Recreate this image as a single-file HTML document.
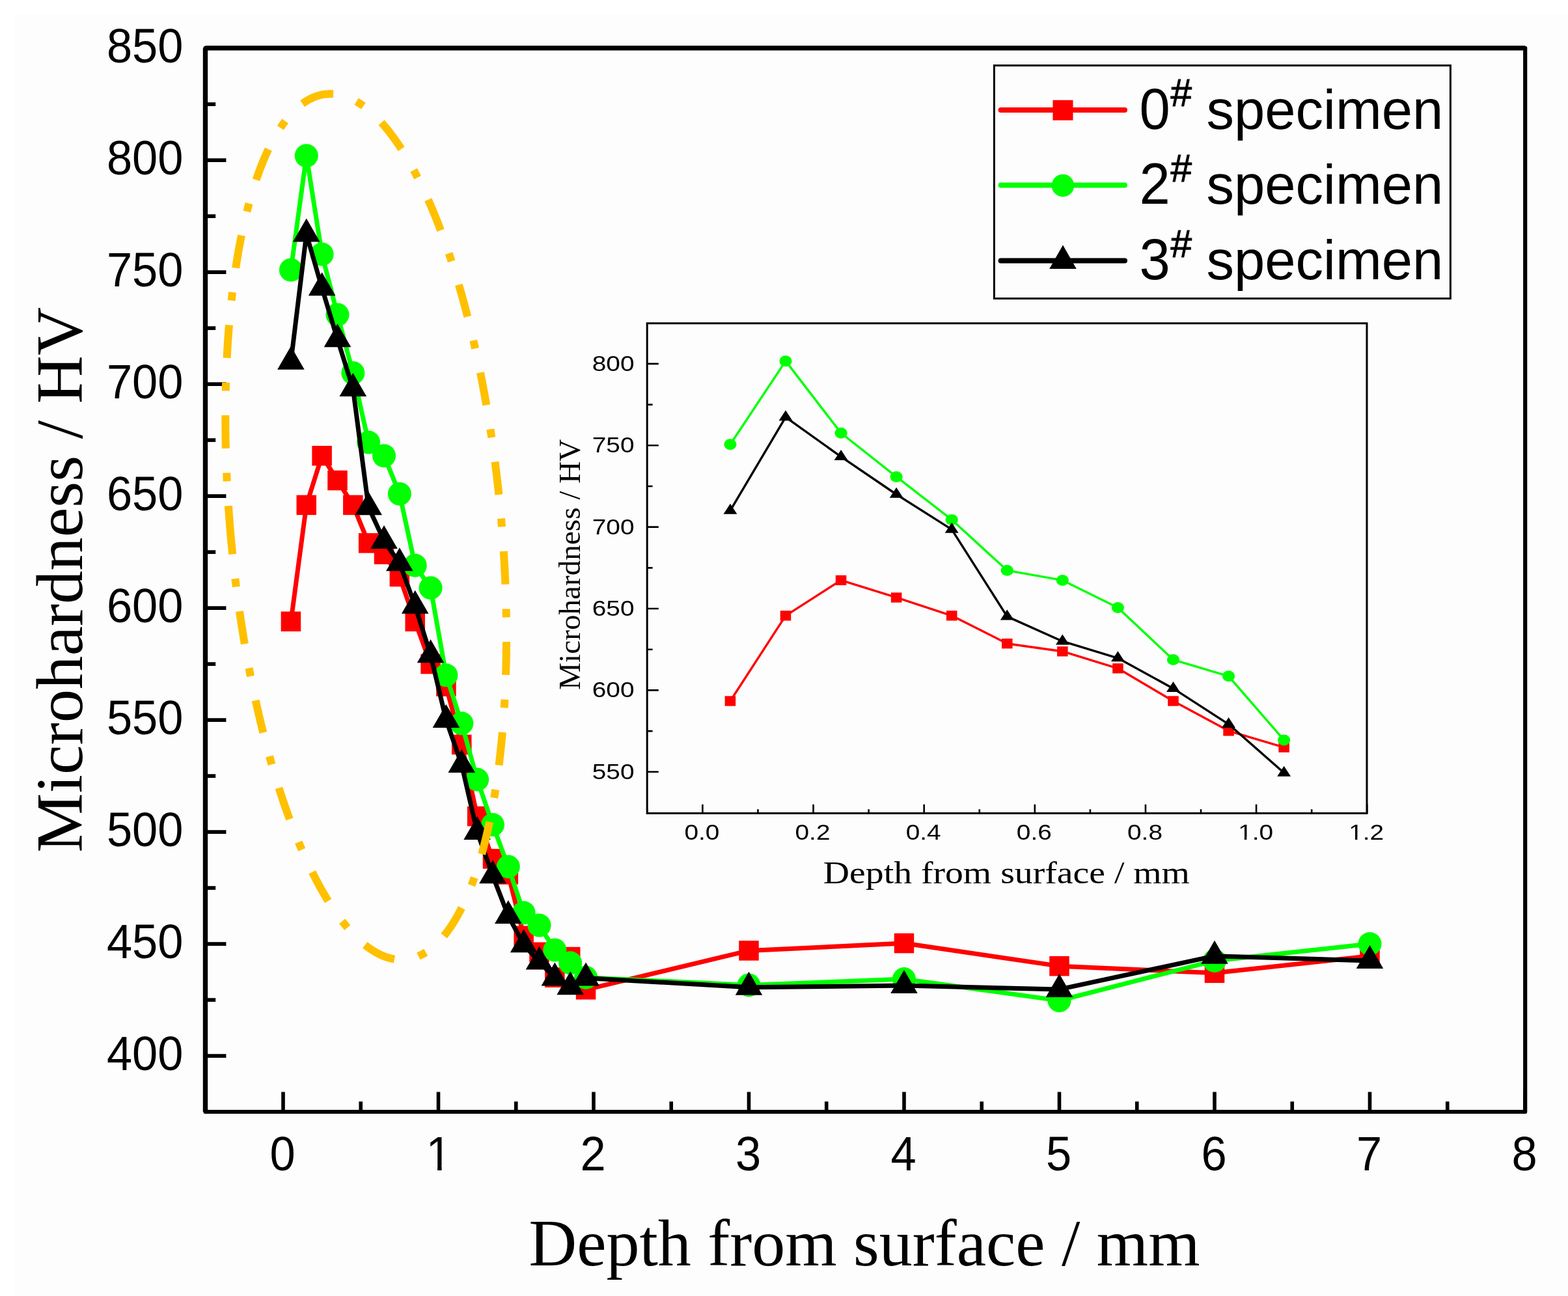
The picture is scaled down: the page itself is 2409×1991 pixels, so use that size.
<!DOCTYPE html>
<html><head><meta charset="utf-8"><title>Microhardness vs depth</title>
<style>html,body{margin:0;padding:0;background:#fdfdfd;overflow:hidden}svg{display:block}</style></head>
<body><svg width="2409" height="1991" viewBox="0 0 2409 1991">
<defs><clipPath id="c1_0" clipPathUnits="userSpaceOnUse"><path clip-rule="evenodd" d="M-219.6043701171875 -400H219.6043701171875V200H-219.6043701171875Z M-15.13 1.20H-1.98V-6.17H-15.13Z M4.46 1.20H17.06V-6.17H4.46Z"/></clipPath><clipPath id="c1_1" clipPathUnits="userSpaceOnUse"><path clip-rule="evenodd" d="M-223.354296875 -400H223.354296875V200H-223.354296875Z M-21.22 1.20H-14.95V-3.41H-21.22Z M-11.89 1.20H-5.88V-3.41H-11.89Z"/></clipPath><clipPath id="c1_2" clipPathUnits="userSpaceOnUse"><path clip-rule="evenodd" d="M-223.354296875 -400H223.354296875V200H-223.354296875Z M-21.22 1.20H-14.95V-3.41H-21.22Z M-11.89 1.20H-5.88V-3.41H-11.89Z"/></clipPath></defs>
<rect x="0" y="0" width="2409" height="1991" fill="#ffffff"/>
<rect x="22" y="22" width="2387" height="1969" fill="#fdfdfd"/>
<path d="M315.5 1708.0V73.8H2343.2V1708.0Z" stroke="#000" stroke-width="6.2" fill="none" stroke-linejoin="round"/>
<path d="M315.5 1708.0V73.8" stroke="#000" stroke-width="7.4" fill="none"/>
<path d="M315.5 73.8H2343.2" stroke="#000" stroke-width="7.2" fill="none"/>
<path d="M315.5 1622.10H347.4 M315.5 1450.10H347.4 M315.5 1278.10H347.4 M315.5 1106.10H347.4 M315.5 934.10H347.4 M315.5 762.10H347.4 M315.5 590.10H347.4 M315.5 418.10H347.4 M315.5 246.10H347.4 M315.5 74.10H347.4 M315.5 1536.10H331.2 M315.5 1364.10H331.2 M315.5 1192.10H331.2 M315.5 1020.10H331.2 M315.5 848.10H331.2 M315.5 676.10H331.2 M315.5 504.10H331.2 M315.5 332.10H331.2 M315.5 160.10H331.2 M435.00 1708.0V1677.4 M673.50 1708.0V1677.4 M912.00 1708.0V1677.4 M1150.50 1708.0V1677.4 M1389.00 1708.0V1677.4 M1627.50 1708.0V1677.4 M1866.00 1708.0V1677.4 M2104.50 1708.0V1677.4 M2343.00 1708.0V1677.4 M554.25 1708.0V1692.3 M792.75 1708.0V1692.3 M1031.25 1708.0V1692.3 M1269.75 1708.0V1692.3 M1508.25 1708.0V1692.3 M1746.75 1708.0V1692.3 M1985.25 1708.0V1692.3 M2223.75 1708.0V1692.3" stroke="#000" stroke-width="5.6" fill="none"/>
<text transform="translate(281.5 1644.0) scale(1 1.045)" text-anchor="end" font-family="'Liberation Sans', Arial, sans-serif" font-size="70.5">400</text>
<text transform="translate(281.5 1472.0) scale(1 1.045)" text-anchor="end" font-family="'Liberation Sans', Arial, sans-serif" font-size="70.5">450</text>
<text transform="translate(281.5 1300.0) scale(1 1.045)" text-anchor="end" font-family="'Liberation Sans', Arial, sans-serif" font-size="70.5">500</text>
<text transform="translate(281.5 1128.0) scale(1 1.045)" text-anchor="end" font-family="'Liberation Sans', Arial, sans-serif" font-size="70.5">550</text>
<text transform="translate(281.5 956.0) scale(1 1.045)" text-anchor="end" font-family="'Liberation Sans', Arial, sans-serif" font-size="70.5">600</text>
<text transform="translate(281.5 784.0) scale(1 1.045)" text-anchor="end" font-family="'Liberation Sans', Arial, sans-serif" font-size="70.5">650</text>
<text transform="translate(281.5 612.0) scale(1 1.045)" text-anchor="end" font-family="'Liberation Sans', Arial, sans-serif" font-size="70.5">700</text>
<text transform="translate(281.5 440.0) scale(1 1.045)" text-anchor="end" font-family="'Liberation Sans', Arial, sans-serif" font-size="70.5">750</text>
<text transform="translate(281.5 268.0) scale(1 1.045)" text-anchor="end" font-family="'Liberation Sans', Arial, sans-serif" font-size="70.5">800</text>
<text transform="translate(281.5 96.0) scale(1 1.045)" text-anchor="end" font-family="'Liberation Sans', Arial, sans-serif" font-size="70.5">850</text>
<text transform="translate(434.0 1797.6) scale(1 1.04)" text-anchor="middle" font-family="'Liberation Sans', Arial, sans-serif" font-size="70.5">0</text>
<text transform="translate(674.1 1797.6) scale(1 1.04)" text-anchor="middle" font-family="'Liberation Sans', Arial, sans-serif" font-size="70.5" clip-path="url(#c1_0)">1</text>
<text transform="translate(911.0 1797.6) scale(1 1.04)" text-anchor="middle" font-family="'Liberation Sans', Arial, sans-serif" font-size="70.5">2</text>
<text transform="translate(1149.5 1797.6) scale(1 1.04)" text-anchor="middle" font-family="'Liberation Sans', Arial, sans-serif" font-size="70.5">3</text>
<text transform="translate(1388.0 1797.6) scale(1 1.04)" text-anchor="middle" font-family="'Liberation Sans', Arial, sans-serif" font-size="70.5">4</text>
<text transform="translate(1626.5 1797.6) scale(1 1.04)" text-anchor="middle" font-family="'Liberation Sans', Arial, sans-serif" font-size="70.5">5</text>
<text transform="translate(1865.0 1797.6) scale(1 1.04)" text-anchor="middle" font-family="'Liberation Sans', Arial, sans-serif" font-size="70.5">6</text>
<text transform="translate(2103.5 1797.6) scale(1 1.04)" text-anchor="middle" font-family="'Liberation Sans', Arial, sans-serif" font-size="70.5">7</text>
<text transform="translate(2342.0 1797.6) scale(1 1.04)" text-anchor="middle" font-family="'Liberation Sans', Arial, sans-serif" font-size="70.5">8</text>
<text x="1328" y="1943.5" text-anchor="middle" font-family="'Liberation Serif', 'Times New Roman', serif" font-size="102">Depth from surface / mm</text>
<text transform="translate(126 890.8) rotate(-90)" text-anchor="middle" font-family="'Liberation Serif', 'Times New Roman', serif" font-size="102.6">Microhardness / HV</text>
<path d="M446.93 954.74 L470.77 775.86 L494.62 700.18 L518.48 738.02 L542.33 775.86 L566.17 834.34 L590.02 851.54 L613.88 885.94 L637.73 954.74 L661.58 1020.10 L685.42 1054.50 L709.27 1143.94 L733.12 1254.02 L756.98 1319.38 L780.83 1343.46 L804.67 1437.72 L828.52 1462.83 L852.38 1501.70 L876.23 1470.05 L900.08 1520.28 L1150.50 1460.42 L1389.00 1449.07 L1627.50 1484.16 L1866.00 1494.82 L2104.50 1468.68" stroke="#ff0000" stroke-width="7" fill="none" stroke-linejoin="round" stroke-linecap="round"/>
<rect x="431.68" y="939.49" width="30.50" height="30.50" fill="#ff0000"/>
<rect x="455.52" y="760.61" width="30.50" height="30.50" fill="#ff0000"/>
<rect x="479.38" y="684.93" width="30.50" height="30.50" fill="#ff0000"/>
<rect x="503.23" y="722.77" width="30.50" height="30.50" fill="#ff0000"/>
<rect x="527.08" y="760.61" width="30.50" height="30.50" fill="#ff0000"/>
<rect x="550.92" y="819.09" width="30.50" height="30.50" fill="#ff0000"/>
<rect x="574.77" y="836.29" width="30.50" height="30.50" fill="#ff0000"/>
<rect x="598.62" y="870.69" width="30.50" height="30.50" fill="#ff0000"/>
<rect x="622.48" y="939.49" width="30.50" height="30.50" fill="#ff0000"/>
<rect x="646.33" y="1004.85" width="30.50" height="30.50" fill="#ff0000"/>
<rect x="670.17" y="1039.25" width="30.50" height="30.50" fill="#ff0000"/>
<rect x="694.02" y="1128.69" width="30.50" height="30.50" fill="#ff0000"/>
<rect x="717.88" y="1238.77" width="30.50" height="30.50" fill="#ff0000"/>
<rect x="741.73" y="1304.13" width="30.50" height="30.50" fill="#ff0000"/>
<rect x="765.58" y="1328.21" width="30.50" height="30.50" fill="#ff0000"/>
<rect x="789.42" y="1422.47" width="30.50" height="30.50" fill="#ff0000"/>
<rect x="813.27" y="1447.58" width="30.50" height="30.50" fill="#ff0000"/>
<rect x="837.12" y="1486.45" width="30.50" height="30.50" fill="#ff0000"/>
<rect x="860.98" y="1454.80" width="30.50" height="30.50" fill="#ff0000"/>
<rect x="884.83" y="1505.03" width="30.50" height="30.50" fill="#ff0000"/>
<rect x="1135.25" y="1445.17" width="30.50" height="30.50" fill="#ff0000"/>
<rect x="1373.75" y="1433.82" width="30.50" height="30.50" fill="#ff0000"/>
<rect x="1612.25" y="1468.91" width="30.50" height="30.50" fill="#ff0000"/>
<rect x="1850.75" y="1479.57" width="30.50" height="30.50" fill="#ff0000"/>
<rect x="2089.25" y="1453.43" width="30.50" height="30.50" fill="#ff0000"/>
<path d="M446.93 414.66 L470.77 239.22 L494.62 390.58 L518.48 483.46 L542.33 572.90 L566.17 679.54 L590.02 700.18 L613.88 758.66 L637.73 868.74 L661.58 903.14 L685.42 1037.30 L709.27 1111.26 L733.12 1197.60 L756.98 1267.09 L780.83 1331.42 L804.67 1402.28 L828.52 1421.55 L852.38 1459.39 L876.23 1479.34 L900.08 1501.70 L1150.50 1513.40 L1389.00 1504.11 L1627.50 1537.13 L1866.00 1475.90 L2104.50 1450.10" stroke="#00ff00" stroke-width="7" fill="none" stroke-linejoin="round" stroke-linecap="round"/>
<ellipse cx="446.93" cy="414.66" rx="18.00" ry="18.00" fill="#00ff00"/>
<ellipse cx="470.77" cy="239.22" rx="18.00" ry="18.00" fill="#00ff00"/>
<ellipse cx="494.62" cy="390.58" rx="18.00" ry="18.00" fill="#00ff00"/>
<ellipse cx="518.48" cy="483.46" rx="18.00" ry="18.00" fill="#00ff00"/>
<ellipse cx="542.33" cy="572.90" rx="18.00" ry="18.00" fill="#00ff00"/>
<ellipse cx="566.17" cy="679.54" rx="18.00" ry="18.00" fill="#00ff00"/>
<ellipse cx="590.02" cy="700.18" rx="18.00" ry="18.00" fill="#00ff00"/>
<ellipse cx="613.88" cy="758.66" rx="18.00" ry="18.00" fill="#00ff00"/>
<ellipse cx="637.73" cy="868.74" rx="18.00" ry="18.00" fill="#00ff00"/>
<ellipse cx="661.58" cy="903.14" rx="18.00" ry="18.00" fill="#00ff00"/>
<ellipse cx="685.42" cy="1037.30" rx="18.00" ry="18.00" fill="#00ff00"/>
<ellipse cx="709.27" cy="1111.26" rx="18.00" ry="18.00" fill="#00ff00"/>
<ellipse cx="733.12" cy="1197.60" rx="18.00" ry="18.00" fill="#00ff00"/>
<ellipse cx="756.98" cy="1267.09" rx="18.00" ry="18.00" fill="#00ff00"/>
<ellipse cx="780.83" cy="1331.42" rx="18.00" ry="18.00" fill="#00ff00"/>
<ellipse cx="804.67" cy="1402.28" rx="18.00" ry="18.00" fill="#00ff00"/>
<ellipse cx="828.52" cy="1421.55" rx="18.00" ry="18.00" fill="#00ff00"/>
<ellipse cx="852.38" cy="1459.39" rx="18.00" ry="18.00" fill="#00ff00"/>
<ellipse cx="876.23" cy="1479.34" rx="18.00" ry="18.00" fill="#00ff00"/>
<ellipse cx="900.08" cy="1501.70" rx="18.00" ry="18.00" fill="#00ff00"/>
<ellipse cx="1150.50" cy="1513.40" rx="18.00" ry="18.00" fill="#00ff00"/>
<ellipse cx="1389.00" cy="1504.11" rx="18.00" ry="18.00" fill="#00ff00"/>
<ellipse cx="1627.50" cy="1537.13" rx="18.00" ry="18.00" fill="#00ff00"/>
<ellipse cx="1866.00" cy="1475.90" rx="18.00" ry="18.00" fill="#00ff00"/>
<ellipse cx="2104.50" cy="1450.10" rx="18.00" ry="18.00" fill="#00ff00"/>
<path d="M446.93 555.70 L470.77 359.62 L494.62 442.18 L518.48 521.30 L542.33 596.98 L566.17 779.30 L590.02 830.90 L613.88 865.30 L637.73 930.66 L661.58 1006.34 L685.42 1106.10 L709.27 1174.90 L733.12 1278.10 L756.98 1345.18 L780.83 1407.10 L804.67 1451.13 L828.52 1477.62 L852.38 1502.39 L876.23 1516.15 L900.08 1502.39 L1150.50 1516.84 L1389.00 1514.08 L1627.50 1519.93 L1866.00 1468.68 L2104.50 1475.90" stroke="#000000" stroke-width="7" fill="none" stroke-linejoin="round" stroke-linecap="round"/>
<path d="M446.93 531.70L467.71 567.70L426.14 567.70Z" fill="#000000"/>
<path d="M470.77 335.62L491.56 371.62L449.99 371.62Z" fill="#000000"/>
<path d="M494.62 418.18L515.41 454.18L473.84 454.18Z" fill="#000000"/>
<path d="M518.48 497.30L539.26 533.30L497.69 533.30Z" fill="#000000"/>
<path d="M542.33 572.98L563.11 608.98L521.54 608.98Z" fill="#000000"/>
<path d="M566.17 755.30L586.96 791.30L545.39 791.30Z" fill="#000000"/>
<path d="M590.02 806.90L610.81 842.90L569.24 842.90Z" fill="#000000"/>
<path d="M613.88 841.30L634.66 877.30L593.09 877.30Z" fill="#000000"/>
<path d="M637.73 906.66L658.51 942.66L616.94 942.66Z" fill="#000000"/>
<path d="M661.58 982.34L682.36 1018.34L640.79 1018.34Z" fill="#000000"/>
<path d="M685.42 1082.10L706.21 1118.10L664.64 1118.10Z" fill="#000000"/>
<path d="M709.27 1150.90L730.06 1186.90L688.49 1186.90Z" fill="#000000"/>
<path d="M733.12 1254.10L753.91 1290.10L712.34 1290.10Z" fill="#000000"/>
<path d="M756.98 1321.18L777.76 1357.18L736.19 1357.18Z" fill="#000000"/>
<path d="M780.83 1383.10L801.61 1419.10L760.04 1419.10Z" fill="#000000"/>
<path d="M804.67 1427.13L825.46 1463.13L783.89 1463.13Z" fill="#000000"/>
<path d="M828.52 1453.62L849.31 1489.62L807.74 1489.62Z" fill="#000000"/>
<path d="M852.38 1478.39L873.16 1514.39L831.59 1514.39Z" fill="#000000"/>
<path d="M876.23 1492.15L897.01 1528.15L855.44 1528.15Z" fill="#000000"/>
<path d="M900.08 1478.39L920.86 1514.39L879.29 1514.39Z" fill="#000000"/>
<path d="M1150.50 1492.84L1171.28 1528.84L1129.72 1528.84Z" fill="#000000"/>
<path d="M1389.00 1490.08L1409.78 1526.08L1368.22 1526.08Z" fill="#000000"/>
<path d="M1627.50 1495.93L1648.28 1531.93L1606.72 1531.93Z" fill="#000000"/>
<path d="M1866.00 1444.68L1886.78 1480.68L1845.22 1480.68Z" fill="#000000"/>
<path d="M2104.50 1451.90L2125.28 1487.90L2083.72 1487.90Z" fill="#000000"/>
<path d="M769.95 796.55 L770.50 802.92 L771.03 809.30 M773.78 846.95 L774.07 851.56 L774.36 856.17 L774.63 860.78 L774.89 865.39 L775.14 870.00 L775.38 874.61 L775.61 879.23 L775.83 883.84 L776.04 888.45 L776.24 893.07 L776.42 897.68 M777.58 935.50 L777.71 941.90 L777.81 948.30 M778.01 986.05 L777.98 990.67 L777.94 995.29 L777.89 999.90 L777.83 1004.52 L777.76 1009.14 L777.68 1013.76 L777.58 1018.37 L777.47 1022.99 L777.35 1027.61 L777.22 1032.22 L777.08 1036.84 M775.44 1074.64 L775.08 1081.03 L774.69 1087.42 M771.87 1125.07 L771.46 1129.67 L771.04 1134.26 L770.60 1138.86 L770.14 1143.46 L769.67 1148.05 L769.19 1152.64 L768.69 1157.24 L768.17 1161.82 L767.64 1166.41 L767.09 1171.00 L766.53 1175.58 M761.24 1213.05 L760.22 1219.37 L759.16 1225.68 M752.13 1262.76 L751.16 1267.28 L750.17 1271.79 L749.16 1276.30 L748.12 1280.80 L747.06 1285.29 L745.97 1289.78 L744.85 1294.26 L743.71 1298.73 L742.53 1303.20 L741.33 1307.66 L740.10 1312.11 M728.75 1348.20 L726.58 1354.22 L724.34 1360.22 M709.24 1394.80 L707.14 1398.91 L704.98 1402.99 L702.75 1407.04 L700.45 1411.05 L698.08 1415.01 L695.64 1418.93 L693.11 1422.79 L690.51 1426.61 L687.81 1430.36 L685.02 1434.04 L682.14 1437.64 M654.26 1462.99 L648.72 1466.19 L642.94 1468.94 M605.98 1473.54 L601.45 1472.66 L596.98 1471.50 L592.58 1470.09 L588.27 1468.43 L584.05 1466.56 L579.93 1464.48 L575.90 1462.22 L571.97 1459.80 L568.13 1457.24 L564.38 1454.53 L560.73 1451.71 M533.81 1425.20 L529.72 1420.28 L525.74 1415.27 M504.28 1384.23 L501.86 1380.29 L499.48 1376.34 L497.14 1372.35 L494.84 1368.35 L492.57 1364.33 L490.34 1360.28 L488.14 1356.22 L485.98 1352.14 L483.85 1348.05 L481.75 1343.93 L479.67 1339.81 M463.75 1305.48 L461.23 1299.60 L458.75 1293.70 M444.98 1258.56 L443.39 1254.22 L441.81 1249.88 L440.26 1245.53 L438.72 1241.17 L437.21 1236.81 L435.71 1232.44 L434.23 1228.07 L432.76 1223.69 L431.32 1219.31 L429.89 1214.91 L428.47 1210.52 M417.49 1174.31 L415.73 1168.16 L414.00 1161.99 M404.34 1125.50 L403.21 1121.02 L402.11 1116.54 L401.01 1112.05 L399.93 1107.56 L398.86 1103.07 L397.80 1098.57 L396.76 1094.08 L395.73 1089.57 L394.71 1085.07 L393.70 1080.56 L392.70 1076.05 M384.99 1039.01 L383.76 1032.73 L382.55 1026.44 M375.85 989.29 L375.08 984.74 L374.32 980.18 L373.57 975.63 L372.84 971.07 L372.11 966.51 L371.39 961.95 L370.69 957.38 L369.99 952.82 L369.30 948.25 L368.63 943.68 L367.96 939.11 M362.89 901.61 L362.10 895.26 L361.33 888.91 M357.17 851.39 L356.68 846.45 L356.19 841.51 L355.72 836.57 L355.25 831.63 L354.80 826.69 L354.36 821.74 L353.93 816.80 L353.52 811.85 L353.11 806.90 L352.72 801.96 L352.34 797.01 L351.96 792.06 L351.60 787.11 L351.26 782.16 L350.92 777.21 M348.73 739.37 L348.43 732.98 L348.15 726.58 M346.89 688.85 L346.78 684.24 L346.69 679.62 L346.60 675.00 L346.53 670.38 L346.47 665.77 L346.41 661.15 L346.37 656.53 L346.34 651.91 L346.32 647.29 L346.31 642.68 L346.31 638.06 M346.76 600.42 L346.91 594.02 L347.08 587.63 M348.59 549.91 L348.83 545.29 L349.08 540.68 L349.35 536.07 L349.63 531.46 L349.93 526.85 L350.24 522.25 L350.56 517.64 L350.89 513.03 L351.24 508.43 L351.60 503.83 L351.98 499.22 M355.61 461.76 L356.33 455.40 L357.07 449.04 M362.16 411.64 L362.87 407.07 L363.59 402.51 L364.33 397.96 L365.09 393.40 L365.88 388.85 L366.68 384.30 L367.50 379.76 L368.35 375.22 L369.22 370.68 L370.10 366.15 L371.02 361.62 M379.34 324.92 L380.93 318.72 L382.58 312.53 M393.52 276.41 L395.02 272.04 L396.56 267.69 L398.14 263.35 L399.76 259.02 L401.42 254.72 L403.13 250.43 L404.89 246.16 L406.69 241.90 L408.55 237.68 L410.46 233.47 L412.42 229.29 M430.78 196.47 L434.40 191.19 L438.19 186.03 M464.66 159.29 L468.45 156.66 L472.37 154.22 L476.42 152.00 L480.59 150.01 L484.87 148.29 L489.26 146.85 L493.73 145.71 L498.27 144.88 L502.86 144.38 L507.48 144.20 L512.09 144.35 M547.58 155.88 L553.03 159.22 L558.30 162.85 M586.08 188.32 L589.14 191.78 L592.13 195.29 L595.06 198.86 L597.93 202.48 L600.75 206.14 L603.51 209.84 L606.22 213.58 L608.88 217.35 L611.50 221.16 L614.06 225.00 L616.58 228.87 M635.63 261.32 L638.63 266.98 L641.57 272.66 M657.79 306.74 L659.65 310.97 L661.49 315.21 L663.31 319.45 L665.10 323.71 L666.87 327.98 L668.61 332.25 L670.33 336.54 L672.04 340.83 L673.72 345.13 L675.38 349.44 L677.02 353.76 M689.67 389.21 L691.70 395.28 L693.70 401.36 M704.86 437.42 L706.15 441.85 L707.43 446.29 L708.69 450.73 L709.94 455.18 L711.18 459.62 L712.40 464.08 L713.61 468.54 L714.80 473.00 L715.98 477.46 L717.15 481.93 L718.30 486.40 M727.22 522.97 L728.65 529.21 L730.06 535.45 M737.91 572.37 L738.82 576.90 L739.72 581.43 L740.60 585.97 L741.48 590.50 L742.34 595.04 L743.19 599.58 L744.03 604.12 L744.86 608.66 L745.68 613.21 L746.49 617.75 L747.28 622.30 M753.38 659.44 L754.35 665.77 L755.30 672.10 M760.49 709.49 L761.08 714.07 L761.66 718.65 L762.22 723.24 L762.78 727.82 L763.33 732.40 L763.87 736.99 L764.40 741.58 L764.92 746.17 L765.42 750.76 L765.92 755.35 L766.41 759.94" stroke="#ffc000" stroke-width="12" fill="none" stroke-linecap="butt" stroke-linejoin="round"/>
<rect x="1527.4" y="100.6" width="701" height="358" fill="none" stroke="#000" stroke-width="3"/>
<line x1="1537.6" y1="169.0" x2="1728" y2="169.0" stroke="#ff0000" stroke-width="8" stroke-linecap="round"/>
<rect x="1617.5" y="153.8" width="31" height="31" fill="#ff0000"/>
<text transform="translate(1750.5 197.8) scale(1 1.04)" font-family="'Liberation Sans', Arial, sans-serif" font-size="85">0</text>
<text x="1798.5" y="163.0" font-family="'Liberation Sans', Arial, sans-serif" font-size="58.5" stroke="#000" stroke-width="1.1">#</text>
<text x="1853.5" y="197.8" font-family="'Liberation Sans', Arial, sans-serif" font-size="85">specimen</text>
<line x1="1537.6" y1="284.6" x2="1728" y2="284.6" stroke="#00ff00" stroke-width="8" stroke-linecap="round"/>
<circle cx="1633" cy="285.1" r="17.3" fill="#00ff00"/>
<text transform="translate(1750.5 313.4) scale(1 1.04)" font-family="'Liberation Sans', Arial, sans-serif" font-size="85">2</text>
<text x="1798.5" y="278.6" font-family="'Liberation Sans', Arial, sans-serif" font-size="58.5" stroke="#000" stroke-width="1.1">#</text>
<text x="1853.5" y="313.4" font-family="'Liberation Sans', Arial, sans-serif" font-size="85">specimen</text>
<line x1="1537.6" y1="400.5" x2="1728" y2="400.5" stroke="#000000" stroke-width="8" stroke-linecap="round"/>
<path d="M1633 376.5L1653.8 412.9L1612.2 412.9Z" fill="#000000"/>
<text transform="translate(1750.5 429.3) scale(1 1.04)" font-family="'Liberation Sans', Arial, sans-serif" font-size="85">3</text>
<text x="1798.5" y="394.5" font-family="'Liberation Sans', Arial, sans-serif" font-size="58.5" stroke="#000" stroke-width="1.1">#</text>
<text x="1853.5" y="429.3" font-family="'Liberation Sans', Arial, sans-serif" font-size="85">specimen</text>
<rect x="994.2" y="496.7" width="1105.8" height="752.7" fill="#fdfdfd" stroke="#000" stroke-width="3"/>
<path d="M994.2 1185.80H1011.8 M994.2 1060.42H1011.8 M994.2 935.04H1011.8 M994.2 809.66H1011.8 M994.2 684.28H1011.8 M994.2 558.90H1011.8 M994.2 1123.11H1002.6 M994.2 997.73H1002.6 M994.2 872.35H1002.6 M994.2 746.97H1002.6 M994.2 621.59H1002.6 M1079.40 1249.4V1235.7 M1249.54 1249.4V1235.7 M1419.68 1249.4V1235.7 M1589.82 1249.4V1235.7 M1759.96 1249.4V1235.7 M1930.10 1249.4V1235.7 M2100.24 1249.4V1235.7 M994.33 1249.4V1243.3 M1164.47 1249.4V1243.3 M1334.61 1249.4V1243.3 M1504.75 1249.4V1243.3 M1674.89 1249.4V1243.3 M1845.03 1249.4V1243.3 M2015.17 1249.4V1243.3" stroke="#000" stroke-width="2.6" fill="none"/>
<text transform="translate(974.5 1196.8) scale(1.155 1)" text-anchor="end" font-family="'Liberation Sans', Arial, sans-serif" font-size="33.6">550</text>
<text transform="translate(974.5 1071.4) scale(1.155 1)" text-anchor="end" font-family="'Liberation Sans', Arial, sans-serif" font-size="33.6">600</text>
<text transform="translate(974.5 946.0) scale(1.155 1)" text-anchor="end" font-family="'Liberation Sans', Arial, sans-serif" font-size="33.6">650</text>
<text transform="translate(974.5 820.7) scale(1.155 1)" text-anchor="end" font-family="'Liberation Sans', Arial, sans-serif" font-size="33.6">700</text>
<text transform="translate(974.5 695.3) scale(1.155 1)" text-anchor="end" font-family="'Liberation Sans', Arial, sans-serif" font-size="33.6">750</text>
<text transform="translate(974.5 569.9) scale(1.155 1)" text-anchor="end" font-family="'Liberation Sans', Arial, sans-serif" font-size="33.6">800</text>
<text transform="translate(1078.4 1289.5) scale(1.155 1)" text-anchor="middle" font-family="'Liberation Sans', Arial, sans-serif" font-size="33.6">0.0</text>
<text transform="translate(1248.5 1289.5) scale(1.155 1)" text-anchor="middle" font-family="'Liberation Sans', Arial, sans-serif" font-size="33.6">0.2</text>
<text transform="translate(1418.7 1289.5) scale(1.155 1)" text-anchor="middle" font-family="'Liberation Sans', Arial, sans-serif" font-size="33.6">0.4</text>
<text transform="translate(1588.8 1289.5) scale(1.155 1)" text-anchor="middle" font-family="'Liberation Sans', Arial, sans-serif" font-size="33.6">0.6</text>
<text transform="translate(1759.0 1289.5) scale(1.155 1)" text-anchor="middle" font-family="'Liberation Sans', Arial, sans-serif" font-size="33.6">0.8</text>
<text transform="translate(1929.1 1289.5) scale(1.155 1)" text-anchor="middle" font-family="'Liberation Sans', Arial, sans-serif" font-size="33.6" clip-path="url(#c1_1)">1.0</text>
<text transform="translate(2099.2 1289.5) scale(1.155 1)" text-anchor="middle" font-family="'Liberation Sans', Arial, sans-serif" font-size="33.6" clip-path="url(#c1_2)">1.2</text>
<text transform="translate(1546.4 1357.1) scale(1.173 1)" text-anchor="middle" font-family="'Liberation Serif', 'Times New Roman', serif" font-size="47.5">Depth from surface / mm</text>
<text transform="translate(890.8 867.2) rotate(-90)" text-anchor="middle" font-family="'Liberation Serif', 'Times New Roman', serif" font-size="47.2">Microhardness / HV</text>
<path d="M1121.94 1076.97 L1207.01 945.82 L1292.08 891.41 L1377.14 917.99 L1462.22 945.82 L1547.29 988.70 L1632.36 1000.74 L1717.43 1026.82 L1802.50 1076.97 L1887.57 1122.86 L1972.64 1148.19" stroke="#ff0000" stroke-width="3.4" fill="none" stroke-linejoin="round" stroke-linecap="round"/>
<rect x="1113.67" y="1069.32" width="16.52" height="15.30" fill="#ff0000"/>
<rect x="1198.74" y="938.17" width="16.52" height="15.30" fill="#ff0000"/>
<rect x="1283.81" y="883.76" width="16.52" height="15.30" fill="#ff0000"/>
<rect x="1368.88" y="910.34" width="16.52" height="15.30" fill="#ff0000"/>
<rect x="1453.95" y="938.17" width="16.52" height="15.30" fill="#ff0000"/>
<rect x="1539.02" y="981.05" width="16.52" height="15.30" fill="#ff0000"/>
<rect x="1624.09" y="993.09" width="16.52" height="15.30" fill="#ff0000"/>
<rect x="1709.16" y="1019.17" width="16.52" height="15.30" fill="#ff0000"/>
<rect x="1794.23" y="1069.32" width="16.52" height="15.30" fill="#ff0000"/>
<rect x="1879.30" y="1115.21" width="16.52" height="15.30" fill="#ff0000"/>
<rect x="1964.37" y="1140.54" width="16.52" height="15.30" fill="#ff0000"/>
<path d="M1121.94 682.78 L1207.01 554.64 L1292.08 665.22 L1377.14 732.43 L1462.22 798.38 L1547.29 876.36 L1632.36 891.41 L1717.43 933.54 L1802.50 1013.53 L1887.57 1038.85 L1972.64 1136.90" stroke="#00ff00" stroke-width="3.4" fill="none" stroke-linejoin="round" stroke-linecap="round"/>
<ellipse cx="1121.94" cy="682.78" rx="9.60" ry="8.50" fill="#00ff00"/>
<ellipse cx="1207.01" cy="554.64" rx="9.60" ry="8.50" fill="#00ff00"/>
<ellipse cx="1292.08" cy="665.22" rx="9.60" ry="8.50" fill="#00ff00"/>
<ellipse cx="1377.14" cy="732.43" rx="9.60" ry="8.50" fill="#00ff00"/>
<ellipse cx="1462.22" cy="798.38" rx="9.60" ry="8.50" fill="#00ff00"/>
<ellipse cx="1547.29" cy="876.36" rx="9.60" ry="8.50" fill="#00ff00"/>
<ellipse cx="1632.36" cy="891.41" rx="9.60" ry="8.50" fill="#00ff00"/>
<ellipse cx="1717.43" cy="933.54" rx="9.60" ry="8.50" fill="#00ff00"/>
<ellipse cx="1802.50" cy="1013.53" rx="9.60" ry="8.50" fill="#00ff00"/>
<ellipse cx="1887.57" cy="1038.85" rx="9.60" ry="8.50" fill="#00ff00"/>
<ellipse cx="1972.64" cy="1136.90" rx="9.60" ry="8.50" fill="#00ff00"/>
<path d="M1121.94 784.33 L1207.01 640.90 L1292.08 701.58 L1377.14 759.51 L1462.22 813.42 L1547.29 947.08 L1632.36 985.19 L1717.43 1011.02 L1802.50 1057.66 L1887.57 1112.58 L1972.64 1187.30" stroke="#000000" stroke-width="3.4" fill="none" stroke-linejoin="round" stroke-linecap="round"/>
<path d="M1121.94 773.67L1132.37 789.67L1111.50 789.67Z" fill="#000000"/>
<path d="M1207.01 630.23L1217.44 646.23L1196.57 646.23Z" fill="#000000"/>
<path d="M1292.08 690.92L1302.51 706.92L1281.64 706.92Z" fill="#000000"/>
<path d="M1377.14 748.84L1387.58 764.84L1366.71 764.84Z" fill="#000000"/>
<path d="M1462.22 802.75L1472.65 818.75L1451.78 818.75Z" fill="#000000"/>
<path d="M1547.29 936.41L1557.72 952.41L1536.85 952.41Z" fill="#000000"/>
<path d="M1632.36 974.53L1642.79 990.53L1621.92 990.53Z" fill="#000000"/>
<path d="M1717.43 1000.35L1727.86 1016.35L1706.99 1016.35Z" fill="#000000"/>
<path d="M1802.50 1046.99L1812.93 1062.99L1792.06 1062.99Z" fill="#000000"/>
<path d="M1887.57 1101.91L1898.00 1117.91L1877.13 1117.91Z" fill="#000000"/>
<path d="M1972.64 1176.64L1983.07 1192.64L1962.20 1192.64Z" fill="#000000"/>
</svg></body></html>
